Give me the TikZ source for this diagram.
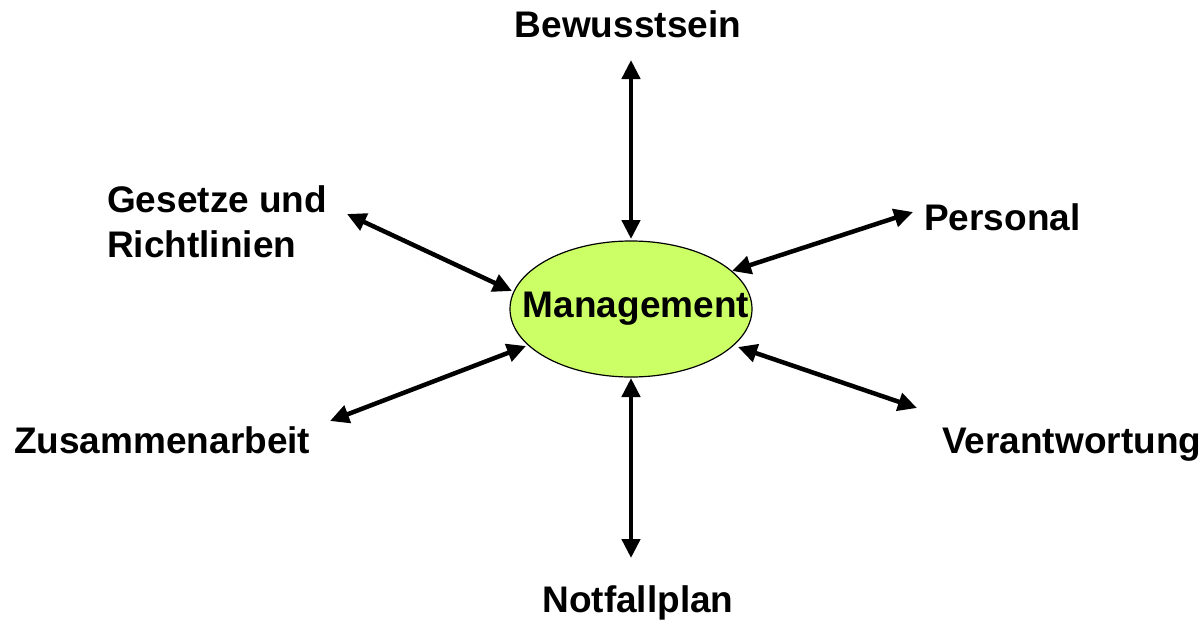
\documentclass[tikz,border=0pt]{standalone}
\usepackage{fontspec}
\setmainfont{Liberation Sans}
\usetikzlibrary{arrows.meta,shapes.geometric}
\definecolor{mgreen}{RGB}{204,255,102}
\begin{document}
\begin{tikzpicture}[x=1pt,y=-1pt,
  lbl/.style={font=\fontsize{37}{45}\selectfont\bfseries, inner sep=0pt},
  conn/.style={line width=4.5pt, {Triangle[length=19pt,width=18pt]}-{Triangle[length=19pt,width=18pt]}},
  mgmt/.style={ellipse, draw=black, line width=1.2pt, fill=mgreen, minimum width=242pt, minimum height=136pt, inner sep=0pt, font=\fontsize{37}{45}\selectfont\bfseries}]
\useasboundingbox (0,0) rectangle (1202,627);
\node[mgmt] (m) at (631,309) {\makebox[0pt]{\hspace*{10pt}Management}};
\node[lbl, anchor=base] (bew) at (628,37) {Bewusstsein};
\node[lbl, anchor=base west, align=left] (ges) at (107,257) {Gesetze und\\Richtlinien};
\node[lbl, anchor=base west] (zus) at (14,453) {Zusammenarbeit};
\node[lbl, anchor=base west] (per) at (924,230) {Personal};
\node[lbl, anchor=base west] (ver) at (942,453) {Verantwortung};
\node[lbl, anchor=base] (not) at (638,612) {Notfallplan};
\coordinate (bewo) at (631,60);
\coordinate (bewi) at (631,239);
\coordinate (noti) at (631,378);
\coordinate (noto) at (631,558);
\coordinate (geso) at (347,214);
\coordinate (gesi) at (512,291);
\coordinate (zuso) at (330,421);
\coordinate (zusi) at (526,346);
\coordinate (pero) at (913,212);
\coordinate (peri) at (732,271);
\coordinate (veri) at (738,347);
\coordinate (vero) at (917,408);
\draw[conn] (bewo) -- (bewi);
\draw[conn] (noti) -- (noto);
\draw[conn] (geso) -- (gesi);
\draw[conn] (zuso) -- (zusi);
\draw[conn] (pero) -- (peri);
\draw[conn] (veri) -- (vero);
\end{tikzpicture}
\end{document}
